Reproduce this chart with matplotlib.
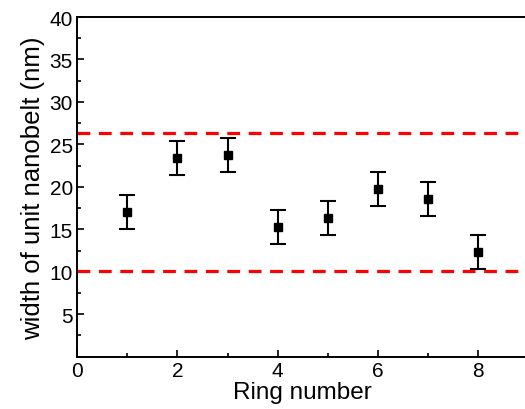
import matplotlib.pyplot as plt
from matplotlib.ticker import MultipleLocator

plt.rcParams['font.family'] = ['Liberation Sans', 'DejaVu Sans']

ring = [1, 2, 3, 4, 5, 6, 7, 8]
width = [17.0, 23.4, 23.8, 15.25, 16.35, 19.8, 18.55, 12.3]
err = [2.0, 2.0, 2.0, 2.0, 2.0, 2.0, 2.0, 2.0]
limits = [26.3, 10.05]

fig = plt.figure(figsize=(5.25, 4.1), dpi=100)
ax = fig.add_axes([0.1467, 0.1276, 0.86, 0.8284])

ax.errorbar(ring, width, yerr=err, fmt='s', color='black', ms=6,
            elinewidth=1.5, capsize=5.5, capthick=1.5)
for v in limits:
    ax.axhline(v, color='#ff0000', lw=2.3, dashes=(4, 2.7))

ax.set_xlim(0, 9)
ax.set_ylim(0, 40)
ax.xaxis.set_major_locator(MultipleLocator(2))
ax.xaxis.set_minor_locator(MultipleLocator(1))
ax.yaxis.set_minor_locator(MultipleLocator(2.5))
ax.set_yticks([5, 10, 15, 20, 25, 30, 35, 40])
ax.tick_params(which='both', direction='in', labelsize=15, width=1.2, top=False, right=False)
ax.tick_params(which='major', length=5, pad=3)
ax.tick_params(which='minor', length=3)
for s in ax.spines.values():
    s.set_linewidth(1.4)
ax.spines['right'].set_visible(False)

ax.set_xlabel('Ring number', fontsize=17.5, labelpad=0.5)
ax.set_ylabel('width of unit nanobelt (nm)', fontsize=18.5, labelpad=3)

fig.savefig('out.png', dpi=100)
